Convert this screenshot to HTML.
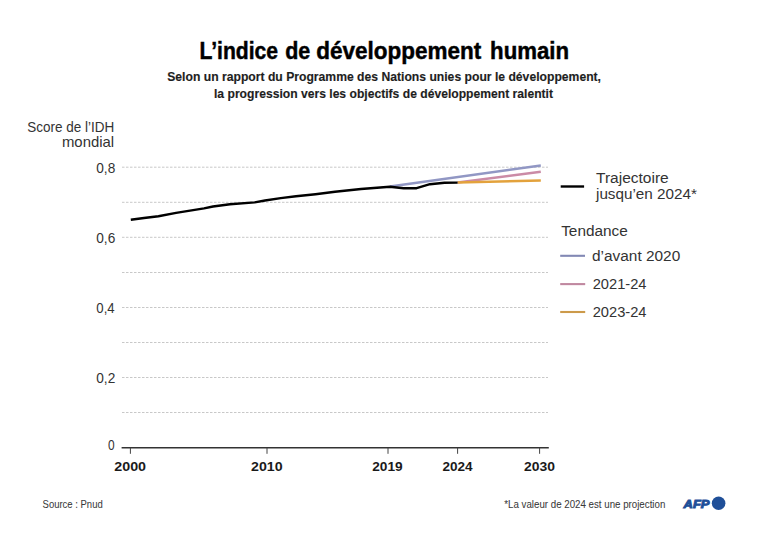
<!DOCTYPE html>
<html><head><meta charset="utf-8">
<style>
html,body{margin:0;padding:0;background:#fff;width:768px;height:551px;overflow:hidden}
svg{display:block}
text{font-family:"Liberation Sans",sans-serif}
</style></head>
<body>
<svg width="768" height="551" viewBox="0 0 768 551">
<rect width="768" height="551" fill="#fff"/>
<g stroke="#c8c8c8" stroke-width="1" stroke-dasharray="2.5,1.5"><line x1="122" y1="412.5" x2="548" y2="412.5"/><line x1="122" y1="377.5" x2="548" y2="377.5"/><line x1="122" y1="342.5" x2="548" y2="342.5"/><line x1="122" y1="307.5" x2="548" y2="307.5"/><line x1="122" y1="272.5" x2="548" y2="272.5"/><line x1="122" y1="237.3" x2="548" y2="237.3"/><line x1="122" y1="202.3" x2="548" y2="202.3"/><line x1="122" y1="167.2" x2="548" y2="167.2"/></g>
<line x1="121.6" y1="447.7" x2="548.8" y2="447.7" stroke="#333" stroke-width="1.5"/>
<g stroke="#444" stroke-width="1"><line x1="130.4" y1="447.7" x2="130.4" y2="453.8"/><line x1="267" y1="447.7" x2="267" y2="453.8"/><line x1="388" y1="447.7" x2="388" y2="453.8"/><line x1="457.6" y1="447.7" x2="457.6" y2="453.8"/><line x1="539.6" y1="447.7" x2="539.6" y2="453.8"/></g>
<g fill="none" stroke-width="2.5"><line x1="390" y1="186.5" x2="540.8" y2="165.4" stroke="#9197c4"/><line x1="457.6" y1="182.5" x2="540.8" y2="171.8" stroke="#cb8ba6"/><line x1="457.6" y1="182.5" x2="540.8" y2="180.6" stroke="#e3a23c"/></g>
<polyline fill="none" stroke="#000" stroke-width="2.4" stroke-linejoin="round" points="130.8,219.8 144,218.0 158.4,216.2 176.1,212.9 204,208.4 213,206.5 230,204.2 254.7,202.4 265,200.5 280.7,198.1 296,196.3 315.5,194.2 335,191.7 361,189.0 389.8,186.7 403.7,188.2 416.6,188.2 430,184.2 444.5,182.8 457.6,182.6"/>
<line x1="560.7" y1="186.5" x2="584.1" y2="186.5" stroke="#000" stroke-width="2.4"/>
<line x1="560.2" y1="255.8" x2="585" y2="255.8" stroke="#8288b4" stroke-width="2.1"/>
<line x1="560.2" y1="284.1" x2="585.2" y2="284.1" stroke="#c088a0" stroke-width="2.1"/>
<line x1="560.2" y1="312" x2="585.2" y2="312" stroke="#cc9a4a" stroke-width="2.1"/>
<circle cx="718.6" cy="503.25" r="6.8" fill="#1f4f98"/>
<text x="199.49" y="58.6" font-size="23" font-weight="bold" fill="#000" stroke="#000" stroke-width="0.45" textLength="78.63" lengthAdjust="spacingAndGlyphs">L’indice</text>
<text x="285.17" y="58.6" font-size="23" font-weight="bold" fill="#000" stroke="#000" stroke-width="0.45" textLength="25.09" lengthAdjust="spacingAndGlyphs">de</text>
<text x="316.29" y="58.6" font-size="23" font-weight="bold" fill="#000" stroke="#000" stroke-width="0.45" textLength="165.01" lengthAdjust="spacingAndGlyphs">développement</text>
<text x="490.07" y="58.6" font-size="23" font-weight="bold" fill="#000" stroke="#000" stroke-width="0.45" textLength="78.96" lengthAdjust="spacingAndGlyphs">humain</text>
<text x="167.25" y="81.2" font-size="13" font-weight="bold" fill="#1e1e1e" stroke="#1e1e1e" stroke-width="0.15" textLength="433.76" lengthAdjust="spacingAndGlyphs">Selon un rapport du Programme des Nations unies pour le développement,</text>
<text x="214.00" y="97.6" font-size="13" font-weight="bold" fill="#1e1e1e" stroke="#1e1e1e" stroke-width="0.15" textLength="339.00" lengthAdjust="spacingAndGlyphs">la progression vers les objectifs de développement ralentit</text>
<text x="27.19" y="131.7" font-size="14.2" font-weight="normal" fill="#333" textLength="86.93" lengthAdjust="spacingAndGlyphs">Score de l’IDH</text>
<text x="61.96" y="146.7" font-size="14.2" font-weight="normal" fill="#333" textLength="52.20" lengthAdjust="spacingAndGlyphs">mondial</text>
<text x="96.28" y="172.8" font-size="14" font-weight="normal" fill="#333" textLength="19.00" lengthAdjust="spacingAndGlyphs">0,8</text>
<text x="96.28" y="242.8" font-size="14" font-weight="normal" fill="#333" textLength="19.00" lengthAdjust="spacingAndGlyphs">0,6</text>
<text x="96.30" y="312.8" font-size="14" font-weight="normal" fill="#333" textLength="18.33" lengthAdjust="spacingAndGlyphs">0,4</text>
<text x="96.28" y="382.8" font-size="14" font-weight="normal" fill="#333" textLength="19.00" lengthAdjust="spacingAndGlyphs">0,2</text>
<text x="108.00" y="449.6" font-size="14" font-weight="normal" fill="#333" textLength="6.65" lengthAdjust="spacingAndGlyphs">0</text>
<text x="114.24" y="470.6" font-size="12.6" font-weight="bold" fill="#1a1a1a" textLength="31.80" lengthAdjust="spacingAndGlyphs">2000</text>
<text x="251.07" y="470.6" font-size="12.6" font-weight="bold" fill="#1a1a1a" textLength="31.63" lengthAdjust="spacingAndGlyphs">2010</text>
<text x="372.18" y="470.6" font-size="12.6" font-weight="bold" fill="#1a1a1a" textLength="30.45" lengthAdjust="spacingAndGlyphs">2019</text>
<text x="442.49" y="470.6" font-size="12.6" font-weight="bold" fill="#1a1a1a" textLength="30.12" lengthAdjust="spacingAndGlyphs">2024</text>
<text x="524.00" y="470.6" font-size="12.6" font-weight="bold" fill="#1a1a1a" textLength="31.00" lengthAdjust="spacingAndGlyphs">2030</text>
<text x="596.00" y="182.6" font-size="14" font-weight="normal" fill="#333" textLength="72.70" lengthAdjust="spacingAndGlyphs">Trajectoire</text>
<text x="596.00" y="198.6" font-size="14" font-weight="normal" fill="#333" textLength="100.92" lengthAdjust="spacingAndGlyphs">jusqu’en 2024*</text>
<text x="561.19" y="236.1" font-size="14" font-weight="normal" fill="#333" textLength="66.57" lengthAdjust="spacingAndGlyphs">Tendance</text>
<text x="591.98" y="260.9" font-size="14" font-weight="normal" fill="#333" textLength="88.29" lengthAdjust="spacingAndGlyphs">d’avant 2020</text>
<text x="592.69" y="289" font-size="14" font-weight="normal" fill="#333" textLength="53.83" lengthAdjust="spacingAndGlyphs">2021-24</text>
<text x="592.69" y="317.2" font-size="14" font-weight="normal" fill="#333" textLength="53.83" lengthAdjust="spacingAndGlyphs">2023-24</text>
<text x="42.59" y="507.9" font-size="10.2" font-weight="normal" fill="#3a3a3a" stroke="#3a3a3a" stroke-width="0.05" textLength="60.11" lengthAdjust="spacingAndGlyphs">Source : Pnud</text>
<text x="504.30" y="507.8" font-size="10.2" font-weight="normal" fill="#3a3a3a" stroke="#3a3a3a" stroke-width="0.05" textLength="161.01" lengthAdjust="spacingAndGlyphs">*La valeur de 2024 est une projection</text>
<text x="683.58" y="507.7" font-size="10.8" font-weight="bold" fill="#1f4f98" stroke="#1f4f98" stroke-width="0.9" font-style="italic" textLength="25.86" lengthAdjust="spacingAndGlyphs">AFP</text>
</svg>
</body></html>
